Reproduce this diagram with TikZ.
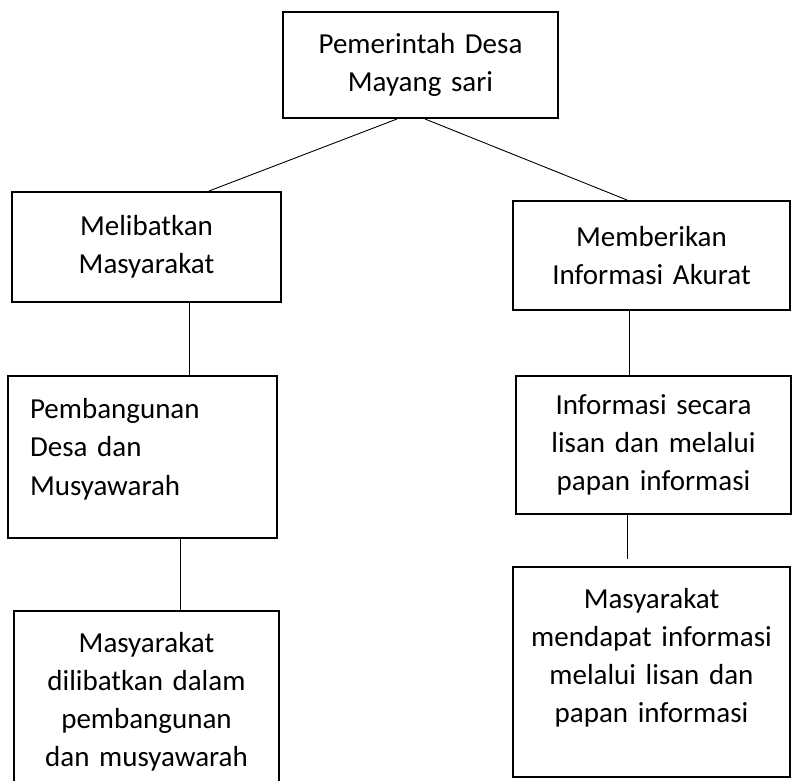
\documentclass[tikz,border=0pt]{standalone}
\usepackage{fontspec}
\setmainfont{Carlito}
\usepackage{tikz}
\usetikzlibrary{positioning,calc}
\tikzset{kotak/.style={rectangle,draw,line width=2pt,inner sep=0pt,align=center,
                       font=\fontsize{29}{38.3}\selectfont},
         garis/.style={line width=0.9pt}
}

\begin{document}
\begin{tikzpicture}[x=1pt,y=-1pt]
       \useasboundingbox (0,0) rectangle (792,781);
       \node[kotak, minimum width=275, minimum height=106, text width=275] (P) at (420.5,65) {Pemerintah Desa\\Mayang sari};
       \node[kotak, minimum width=269, minimum height=110, text width=269] (A) at (146.5,247) {Melibatkan\\Masyarakat};
       \node[kotak, minimum width=277, minimum height=109, text width=277] (B) at (651.5,255.5) {Memberikan\\Informasi Akurat};
       \node[kotak, minimum width=269, minimum height=162, text width=225, inner xsep=22pt, align=left, text depth=97pt] (A2) at (142.5,457) {Pembangunan\\Desa dan\\Musyawarah};
       \node[kotak, minimum width=275, minimum height=138, text width=275] (B2) at (653.5,445) {Informasi secara\\lisan dan melalui\\papan informasi};
       \node[kotak, minimum width=265, minimum height=189, text width=265, text depth=127pt] (A3) at (146.5,705.5) {Masyarakat\\dilibatkan dalam\\pembangunan\\dan musyawarah};
       \node[kotak, minimum width=277, minimum height=210, text width=277, text depth=148pt] (B3) at (651.5,672) {Masyarakat\\mendapat informasi\\melalui lisan dan\\papan informasi};
       \draw[garis] ([xshift=-23.5pt]P.south) -- ([xshift=62.5pt]A.north);
       \draw[garis] ([xshift=4.5pt]P.south) -- ([xshift=-24.5pt]B.north);
       \draw[garis] ([xshift=42.5pt]A.south) -- ([xshift=46.5pt]A2.north);
       \draw[garis] ([xshift=37.5pt]A2.south) -- ([xshift=33.5pt]A3.north);
       \draw[garis] ([xshift=-22.5pt]B.south) -- ([xshift=-24.5pt]B2.north);
       \draw[garis] ([xshift=-26.5pt]B2.south) -- ([xshift=-24.5pt,yshift=7pt]B3.north);
\end{tikzpicture}
\end{document}
